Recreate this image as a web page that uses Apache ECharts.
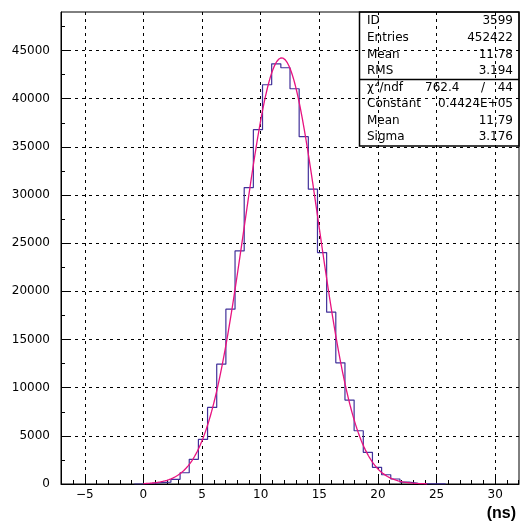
<!DOCTYPE html>
<html>
<head>
<meta charset="utf-8">
<script src="https://cdn.jsdelivr.net/npm/echarts@6/dist/echarts.min.js"></script>
<style>
html, body { margin: 0; padding: 0; background: #fff; }
#chart { width: 521px; height: 525px; }
</style>
</head>
<body>
<div id="chart"></div>
<script>
// Time histogram: 50 bins of 0.78125 ns, starting at -7.03125 ns
const histLow = -7.03125;
const binWidth = 0.78125;
const counts = [
  0, 0, 0, 0, 0, 0, 0, 0,
  20, 60, 150, 190, 490, 1170, 2560, 4630, 7950, 12440,
  18150, 24200, 30770, 36780, 41450, 43620, 43210, 41030, 36060, 30610,
  24030, 17840, 12580, 8710, 5530, 3290, 1730, 960, 520, 200,
  80, 30, 10, 4,
  0, 0, 0, 0, 0, 0, 0, 0
];

// Gaussian fit parameters (as printed in the fit box)
const fitConstant = 44240;
const fitMean = 11.79;
const fitSigma = 3.176;
const fitFrom = 0;
const fitTo = 24.2;

// Axis ticks
const xMajorTicks = [-5, 0, 5, 10, 15, 20, 25, 30];
const xMinorTicks = [-7, -6, -4, -3, -2, -1, 1, 2, 3, 4, 6, 7, 8, 9, 11, 12, 13, 14,
                     16, 17, 18, 19, 21, 22, 23, 24, 26, 27, 28, 29, 31, 32];
const yMajorTicks = [0, 5000, 10000, 15000, 20000, 25000, 30000, 35000, 40000, 45000];
const yMinorTicks = [2500, 7500, 12500, 17500, 22500, 27500, 32500, 37500, 42500, 47500];
const yMax = 49000;

// Statistics box contents
const statNames = ['ID', 'Entries', 'Mean', 'RMS'];
const statValues = ['3599', '452422', '11.78', '3.194'];
const chi2Value = '762.4';
const ndfValue = '44';
const fitNames = ['Constant', 'Mean', 'Sigma'];
const fitValues = ['0.4424E+05', '11.79', '3.176'];
const xUnit = '(ns)';

const xMax = histLow + counts.length * binWidth;

// Step outline through each filled bin's low edge, closed at the last upper edge
let first = counts.findIndex(c => c > 0);
let last = counts.length - 1;
while (last > 0 && counts[last] === 0) last--;
const histPoints = [[histLow + first * binWidth, 0]];
for (let i = first; i <= last; i++) histPoints.push([histLow + i * binWidth, counts[i]]);
histPoints.push([histLow + (last + 1) * binWidth, 0]);

// Fit curve sampled over the fit range
const fitPoints = [];
const nSteps = 400;
for (let i = 0; i <= nSteps; i++) {
  const x = fitFrom + (fitTo - fitFrom) * i / nSteps;
  const d = (x - fitMean) / fitSigma;
  fitPoints.push([x, fitConstant * Math.exp(-0.5 * d * d)]);
}

const FONT = 'DejaVu Sans';
const gridLine = { show: true, lineStyle: { color: '#000', width: 1, type: [3, 4] } };
const fmtX = v => (v < 0 ? '\u2212' + (-v) : String(v));
const fmtY = v => String(v);

const chart = echarts.init(document.getElementById('chart'), null, { renderer: 'canvas' });

const G = { left: 61, top: 12, right: 2, bottom: 41 };
const boxL = 359.5, boxR = 519, boxT = 12, boxMid = 79.5, boxB = 146;
const rowY1 = [21, 38, 55, 71];
const rowY2 = [88, 104, 121, 137];
const textL = 367, textR = 513;

const graphics = [
  { type: 'rect', shape: { x: boxL, y: boxT, width: boxR - boxL, height: boxB - boxT },
    style: { fill: 'none', stroke: '#000', lineWidth: 1.5 }, z: 10 },
  { type: 'line', shape: { x1: boxL, y1: boxMid, x2: boxR, y2: boxMid },
    style: { stroke: '#000', lineWidth: 1.5 }, z: 10 }
];
function addText(text, x, y, align, opts) {
  graphics.push({
    type: 'text', x: x, y: y, z: 11,
    style: Object.assign({
      text: text, fill: '#000', font: '12px "' + FONT + '"',
      textAlign: align, textVerticalAlign: 'middle'
    }, opts || {})
  });
}
statNames.forEach((n, i) => {
  addText(n, textL, rowY1[i], 'left');
  addText(statValues[i], textR, rowY1[i], 'right');
});
addText('\u03c7', textL, rowY2[0], 'left');
addText('2', textL + 7.5, rowY2[0] - 4, 'left', { font: '8px "' + FONT + '"' });
addText('/ndf', textL + 12.5, rowY2[0], 'left');
addText(chi2Value, 425, rowY2[0], 'left');
addText('/', 483, rowY2[0], 'center');
addText(ndfValue, textR, rowY2[0], 'right');
fitNames.forEach((n, i) => {
  addText(n, textL, rowY2[i + 1], 'left');
  addText(fitValues[i], textR, rowY2[i + 1], 'right');
});
addText(xUnit, 516, 514, 'right', { font: 'bold 16px "Liberation Sans"' });

chart.setOption({
  animation: false,
  backgroundColor: '#fff',
  grid: Object.assign({ show: true, borderColor: '#000', borderWidth: 1, backgroundColor: 'transparent', containLabel: false }, G),
  xAxis: [
    {
      type: 'value', min: histLow, max: xMax, position: 'bottom',
      axisLine: { show: true, onZero: false, lineStyle: { color: '#000', width: 1 } },
      axisTick: { show: true, inside: true, length: 7, customValues: xMajorTicks, lineStyle: { color: '#000' } },
      axisLabel: { show: true, customValues: xMajorTicks, formatter: fmtX, margin: 5,
                   color: '#000', fontFamily: FONT, fontSize: 12 },
      splitLine: gridLine
    },
    {
      type: 'value', min: histLow, max: xMax, position: 'bottom',
      axisLine: { show: false, onZero: false },
      axisTick: { show: true, inside: true, length: 4, customValues: xMinorTicks, lineStyle: { color: '#000' } },
      axisLabel: { show: false },
      splitLine: { show: false }
    }
  ],
  yAxis: [
    {
      type: 'value', min: 0, max: yMax, position: 'left',
      axisLine: { show: true, onZero: false, lineStyle: { color: '#000', width: 1 } },
      axisTick: { show: true, inside: true, length: 7, customValues: yMajorTicks, lineStyle: { color: '#000' } },
      axisLabel: { show: true, customValues: yMajorTicks, formatter: fmtY, margin: 11,
                   color: '#000', fontFamily: FONT, fontSize: 12 },
      splitLine: gridLine
    },
    {
      type: 'value', min: 0, max: yMax, position: 'left',
      axisLine: { show: false, onZero: false },
      axisTick: { show: true, inside: true, length: 4, customValues: yMinorTicks, lineStyle: { color: '#000' } },
      axisLabel: { show: false },
      splitLine: { show: false }
    }
  ],
  series: [
    {
      name: 'histogram', type: 'line', step: 'end', xAxisIndex: 0, yAxisIndex: 0,
      data: histPoints, symbol: 'none', clip: true,
      lineStyle: { color: '#41309a', width: 1.2 }, z: 3
    },
    {
      name: 'fit', type: 'line', xAxisIndex: 0, yAxisIndex: 0,
      data: fitPoints, symbol: 'none', smooth: false, clip: true,
      lineStyle: { color: '#e8127f', width: 1.3 }, z: 4
    }
  ],
  graphic: graphics
});
</script>
</body>
</html>
